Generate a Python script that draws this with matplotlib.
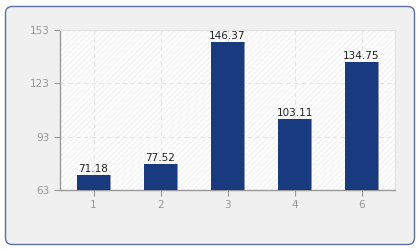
import matplotlib
matplotlib.use("Agg")
import matplotlib.pyplot as plt
from matplotlib.patches import FancyBboxPatch, Rectangle
from matplotlib.transforms import ScaledTranslation

categories = ["1", "2", "3", "4", "6"]
values = [71.18, 77.52, 146.37, 103.11, 134.75]
yticks = [63, 93, 123, 153]

plt.rcParams['hatch.linewidth'] = 0.6
fig = plt.figure(figsize=(4.2, 2.5), dpi=100)
fig.patch.set_facecolor("white")
box = FancyBboxPatch((5.5/420, 5.5/250), 409/420, 238/250,
                     boxstyle="round,pad=0,rounding_size=0.016",
                     transform=fig.transFigure, facecolor="#f0f0f0",
                     edgecolor="#5b6fa6", linewidth=1.0, mutation_aspect=420/250,
                     zorder=-10)
fig.patches.append(box)

ax = fig.add_axes([60/420, 1-190/250, 335/420, 160/250])
ax.set_zorder(5)
ax.set_facecolor("white")
ax.add_patch(Rectangle((0, 0), 1, 1, transform=ax.transAxes, facecolor="none",
                       edgecolor="#ebebeb", hatch="//////", linewidth=0, zorder=0))

x = list(range(len(categories)))
shadow = ScaledTranslation(1.2/100, 0, fig.dpi_scale_trans)
ax.bar(x, [v - 63 for v in values], bottom=63, width=0.5, color="#8a93a8",
       transform=ax.transData + shadow, zorder=2)
ax.bar(x, [v - 63 for v in values], bottom=63, width=0.5, color="#1a3a80", zorder=3)
for xi, v in zip(x, values):
    ax.text(xi, v + 0.6, f"{v:.2f}", ha="center", va="bottom", fontsize=7.5,
            color="#222222", zorder=4)

ax.set_xlim(-0.5, 4.5)
ax.set_ylim(63, 153)
ax.set_xticks(x)
ax.set_xticklabels(categories)
ax.set_yticks(yticks)
ax.grid(True, color="#e4e4e4", linestyle=(0, (4, 3)), linewidth=0.8, zorder=1)
ax.set_axisbelow(True)
ax.tick_params(colors="#999999", labelsize=7.5, length=4, width=0.8, labelcolor="#999999")
for s in ["left", "bottom"]:
    ax.spines[s].set_color("#999999")
    ax.spines[s].set_linewidth(1.0)
for s in ["top", "right"]:
    ax.spines[s].set_color("#e2e2e2")
    ax.spines[s].set_linewidth(0.8)

fig.savefig("out.png", dpi=100, facecolor="white")
